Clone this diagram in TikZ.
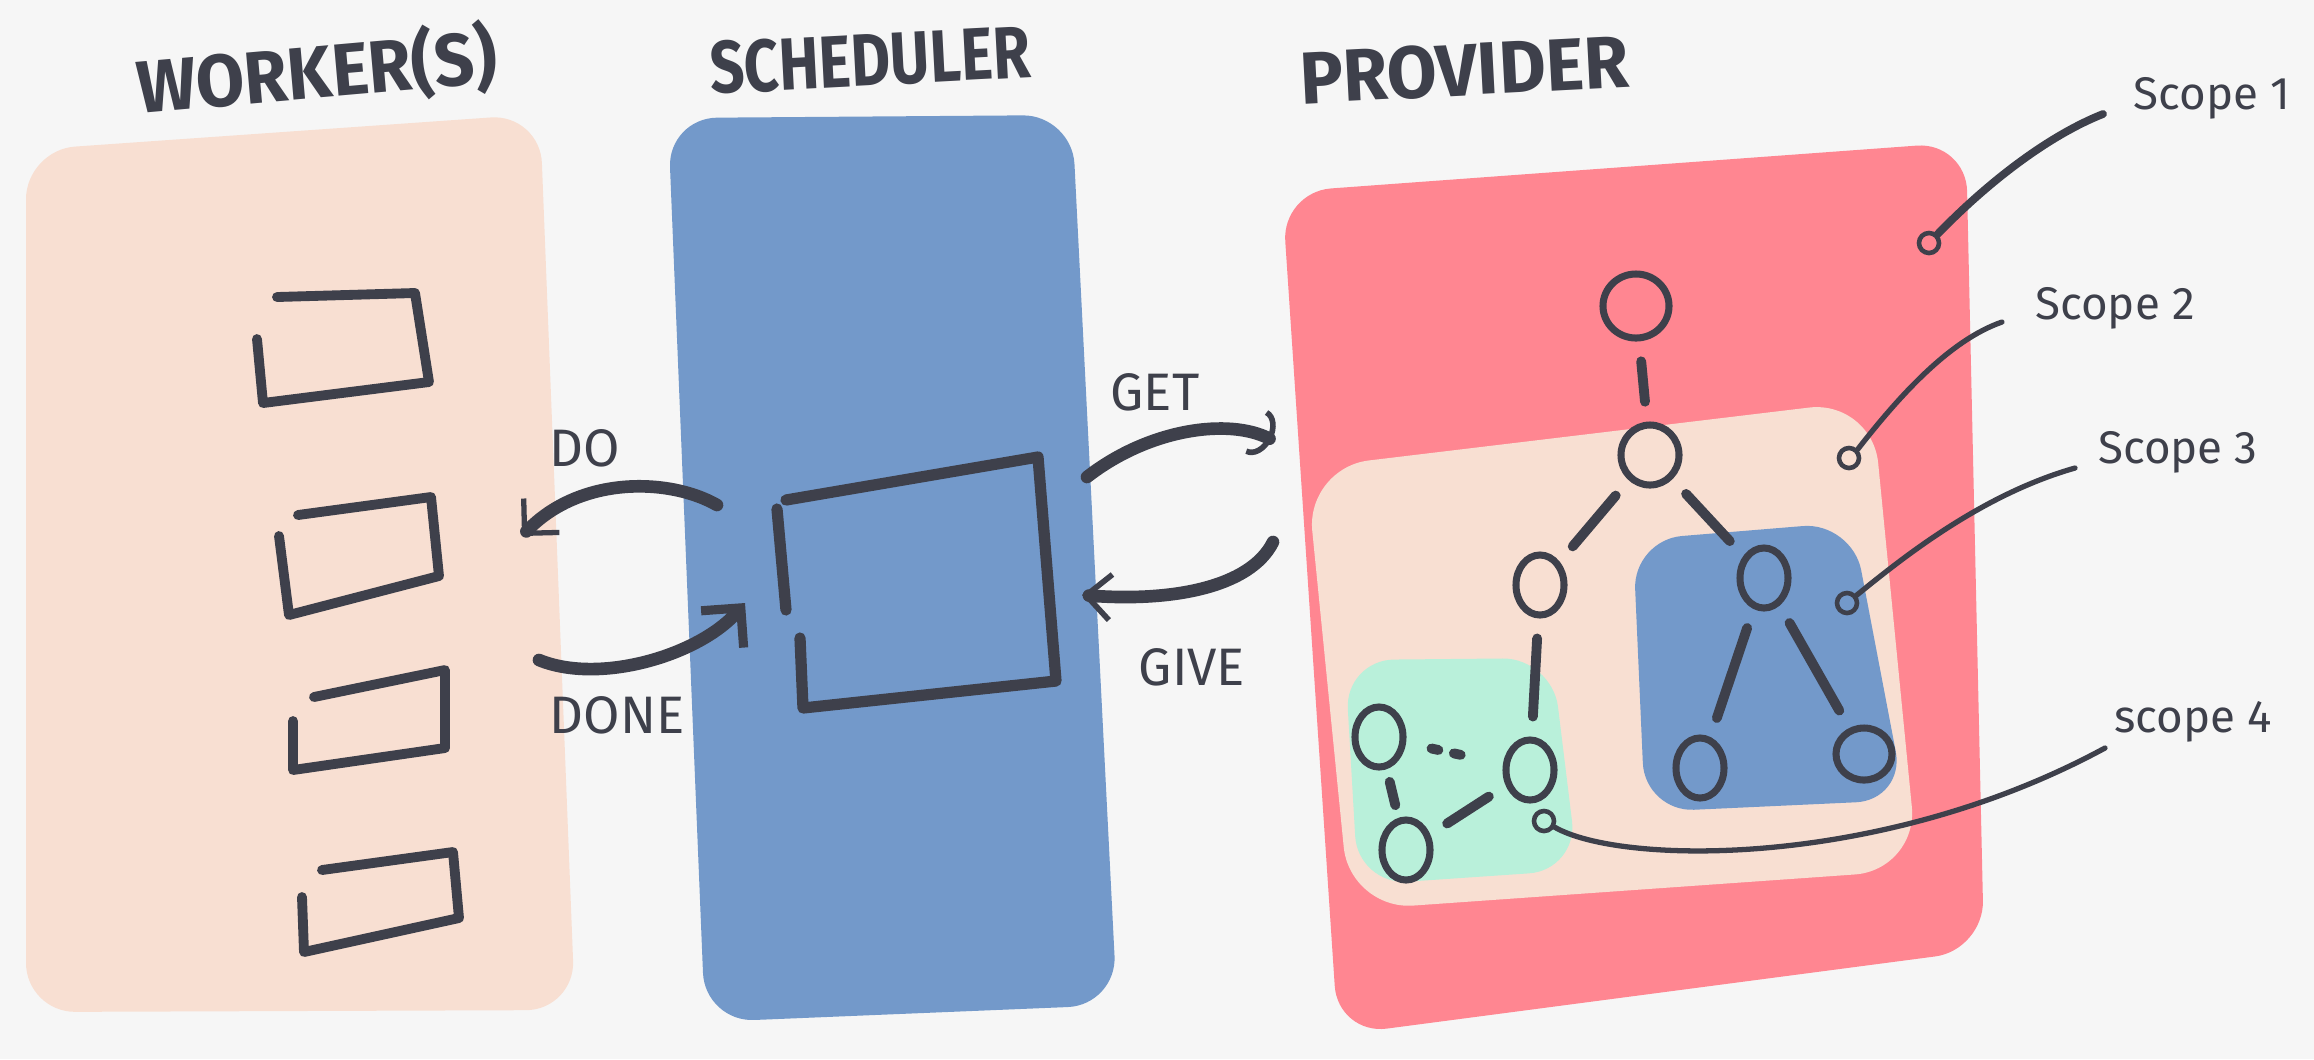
\documentclass[tikz,border=0pt]{standalone}
\usepackage{fontspec}
\usepackage{graphicx}
\setmainfont{Fira Sans}
\usetikzlibrary{arrows.meta,shapes.geometric}

\definecolor{paper}{HTML}{F6F6F6}
\definecolor{ink}{HTML}{3E404B}
\definecolor{peach}{HTML}{F8DFD2}
\definecolor{slate}{HTML}{7399CA}
\definecolor{coral}{HTML}{FF8691}
\definecolor{mint}{HTML}{B9F0DA}

\begin{document}
\begin{tikzpicture}[
    x=0.01cm, y=-0.01cm,
    panel/.style={rounded corners=14pt},
    inkline/.style={draw=ink, line width=3.6pt, line cap=round, line join=round},
    boxline/.style={draw=ink, line width=2.8pt, line cap=round, line join=round},
    vert/.style={ellipse, draw=ink, line width=2pt, minimum width=4.8mm, minimum height=6mm, inner sep=0pt},
    link/.style={draw=ink, line width=2.8pt, line cap=round, shorten <=2mm, shorten >=2mm},
    pindot/.style={circle, draw=ink, line width=1.3pt, minimum size=2mm, inner sep=0pt},
    callout/.style={draw=ink, line width=1.5pt, line cap=round},
    heading/.style={text=ink, font=\fontsize{21}{24}\selectfont\bfseries},
    msg/.style={text=ink, font=\fontsize{15}{17}\selectfont},
    scopetext/.style={text=ink, font=\fontsize{13}{15}\selectfont}
]
    \useasboundingbox (0,0) rectangle (2314,1059);
    \fill[paper] (0,0) rectangle (2314,1059);

    % Panels
    \fill[peach, panel] (26,150) -- (540,114) -- (575,1010) -- (26,1012) -- cycle;
    \fill[slate, panel] (668,118) -- (1072,115) -- (1117,1005) -- (705,1022) -- cycle;
    \fill[coral, panel] (1282,192) -- (1966,142) -- (1984,950) -- (1338,1035) -- cycle;

    % Scopes
    \fill[peach, rounded corners=18pt] (1306,468) -- (1872,400) -- (1918,870) -- (1350,910) -- cycle;
    \fill[slate, rounded corners=14pt] (1633,540) -- (1852,522) -- (1905,800) -- (1645,812) -- cycle;
    \fill[mint, rounded corners=14pt] (1345,660) -- (1552,658) -- (1578,870) -- (1358,885) -- cycle;

    % Titles
    \node[heading, rotate=5] (workers) at (317,72) {\scalebox{0.95}[1]{WORKER(S)}};
    \node[heading, rotate=3] (scheduler) at (870,60) {\scalebox{0.82}[1]{SCHEDULER}};
    \node[heading, rotate=3] (provider) at (1464,70) {\scalebox{0.98}[1]{PROVIDER}};

    % Workers
    \draw[boxline] (277,297) -- (415,293) -- (429,382) -- (263,403) -- (257,339);
    \draw[boxline] (298,515) -- (431,497) -- (439,576) -- (289,615) -- (279,536);
    \draw[boxline] (314,697) -- (445,670) -- (445,748) -- (293,770) -- (293,721);
    \draw[boxline] (322,870) -- (453,852) -- (459,918) -- (304,952) -- (302,897);

    % Queue
    \draw[inkline, line width=3.2pt] (786,500) -- (1038,457) -- (1056,681) -- (803,708) -- (800,638);
    \draw[inkline, line width=3.2pt] (777,509) -- (786,610);

    % Messages
    \coordinate (doA) at (717,505);
    \coordinate (doB) at (522,536);
    \coordinate (doneA) at (539,660);
    \coordinate (doneB) at (745,603);
    \coordinate (getA) at (1087,477);
    \coordinate (getB) at (1272,440);
    \coordinate (giveA) at (1273,542);
    \coordinate (giveB) at (1082,595);
    \draw[inkline, -{Straight Barb[length=7pt, width=14pt, line width=1.5pt]}] (doA) .. controls (670,478) and (580,475) .. (doB);
    \draw[inkline, -{Straight Barb[length=8pt, width=16pt, line width=2.6pt]}] (doneA) .. controls (600,685) and (700,655) .. (doneB);
    \draw[inkline, -{Arc Barb[length=5pt, width=14pt, line width=1.6pt]}] (getA) .. controls (1150,428) and (1230,418) .. (getB);
    \draw[inkline, -{Straight Barb[length=7pt, width=13pt, line width=1.6pt]}] (giveA) .. controls (1250,588) and (1170,602) .. (giveB);
    \node[msg] (do) at (585,448) {DO};
    \node[msg] (done) at (617,715) {DONE};
    \node[msg] (get) at (1155,392) {GET};
    \node[msg] (give) at (1192,667) {GIVE};

    % Tree
    \node[vert, minimum width=6.6mm, minimum height=6.4mm] (root) at (1636,306) {};
    \node[vert, minimum width=5.8mm] (mid) at (1650,455) {};
    \node[vert] (left) at (1540,585) {};
    \node[vert] (b1) at (1764,578) {};
    \node[vert] (b2) at (1700,768) {};
    \node[vert, minimum width=5.6mm, minimum height=5.2mm] (b3) at (1864,754) {};
    \node[vert] (g1) at (1379,737) {};
    \node[vert] (g2) at (1530,770) {};
    \node[vert] (g3) at (1406,850) {};
    \draw[link] (root) -- (mid);
    \draw[link] (mid) -- (left);
    \draw[link] (mid) -- (b1);
    \draw[link] (left) -- (g2);
    \draw[link] (b1) -- (b2);
    \draw[link] (b1) -- (b3);
    \draw[link, shorten <=1.3mm, shorten >=1.3mm] (g1) -- (g3);
    \draw[link] (g2) -- (g3);
    \draw[link, dash pattern=on 2pt off 4.5pt, shorten <=2.6mm, shorten >=3.2mm] (g1) -- (g2);

    % Scope callouts
    \node[pindot] (d1) at (1929,243) {};
    \node[pindot] (d2) at (1849,458) {};
    \node[pindot] (d3) at (1847,603) {};
    \node[pindot] (d4) at (1544,821) {};
    \node[scopetext] (s1) at (2212,98) {Scope 1};
    \node[scopetext] (s2) at (2115,308) {Scope 2};
    \node[scopetext] (s3) at (2178,452) {Scope 3};
    \node[scopetext] (s4) at (2193,722) {scope 4};
    \coordinate (e1) at (2103,114);
    \coordinate (e2) at (2002,322);
    \coordinate (e3) at (2075,468);
    \coordinate (e4) at (2105,748);
    \draw[callout, line width=2.2pt] (d1) .. controls (1990,180) and (2050,135) .. (e1);
    \draw[callout] (d2.north east) .. controls (1900,395) and (1950,340) .. (e2);
    \draw[callout] (d3) .. controls (1900,560) and (1980,495) .. (e3);
    \draw[callout] (d4) .. controls (1620,865) and (1880,870) .. (e4);
\end{tikzpicture}
\end{document}
